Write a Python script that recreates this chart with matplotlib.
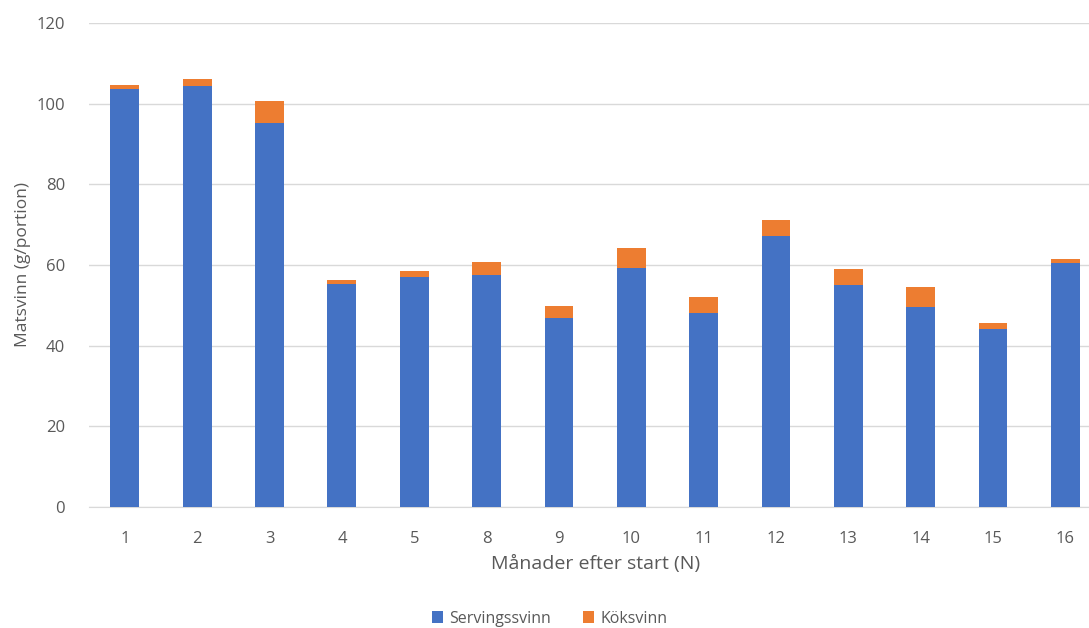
import matplotlib.pyplot as plt
import numpy as np

manader = ['1', '2', '3', '4', '5', '8', '9', '10', '11', '12', '13', '14', '15', '16']
servingssvinn = [103.6, 104.4, 95.1, 55.3, 57.0, 57.4, 46.9, 59.3, 48.2, 67.3, 55.0, 49.5, 44.2, 60.5]
koksvinn = [1.0, 1.7, 5.5, 1.0, 1.5, 3.4, 2.9, 5.0, 3.8, 3.9, 3.9, 5.0, 1.3, 0.9]

plt.rcParams['font.family'] = ['Open Sans', 'DejaVu Sans']
grey = '#595959'

fig = plt.figure(figsize=(10.89, 6.28), dpi=100)
ax = fig.add_axes([0.0815, 0.1927, 0.930, 0.7707])

x = np.arange(len(manader))
ax.bar(x, servingssvinn, width=0.4, color='#4472C4', label='Servingssvinn', zorder=3)
ax.bar(x, koksvinn, width=0.4, bottom=servingssvinn, color='#ED7D31', label='Köksvinn', zorder=3)

ax.set_xlim(-0.5, len(manader) - 0.5)
ax.set_ylim(0, 120)
ax.set_yticks(range(0, 121, 20))
ax.set_xticks(x)
ax.set_xticklabels(manader)
ax.yaxis.grid(True, color='#D9D9D9', linewidth=1, zorder=0)
for s in ['top', 'right', 'left']:
    ax.spines[s].set_visible(False)
ax.spines['bottom'].set_color('#D9D9D9')
ax.tick_params(axis='both', length=0, colors=grey, labelsize=12)
ax.tick_params(axis='x', pad=17)
ax.tick_params(axis='y', pad=17)

ax.set_xlabel('Månader efter start (N)', color=grey, fontsize=14, labelpad=6)
ax.set_ylabel('Matsvinn (g/portion)', color=grey, fontsize=12.5, labelpad=4)

handles, labels = ax.get_legend_handles_labels()
fig.legend(handles, labels, loc='center', bbox_to_anchor=(0.505, 0.015), ncol=2,
           frameon=False, fontsize=11.5, labelcolor=grey, handlelength=0.7,
           handleheight=0.7, columnspacing=2.0, handletextpad=0.4)

fig.savefig('out.png', dpi=100)
